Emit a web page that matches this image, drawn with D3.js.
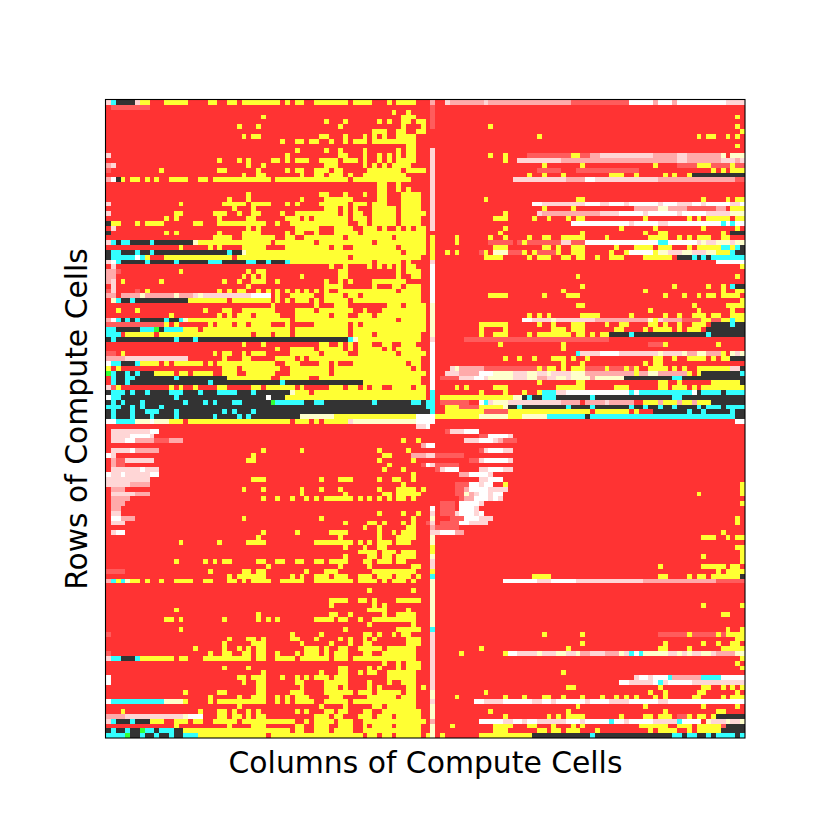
<!DOCTYPE html>
<html>
<head>
<meta charset="utf-8">
<script src="https://cdn.jsdelivr.net/npm/d3@7"></script>
<style>
  html, body { margin: 0; padding: 0; background: #fff; }
  text { font-family: "DejaVu Sans", sans-serif; fill: #000; }
</style>
</head>
<body>
<script>
//cell classes, red is the background class
var classKeys = ["r", "y", "k", "c", "g", "w", "p", "s", "m", "l"];
var classColors = ["#ff3333", "#ffff33", "#333333", "#33ffff", "#33ff33", "#ffffff", "#ffd6d6", "#ffaaaa", "#ff5c5c", "#ffffcc"];

//each row lists its non red runs as class + first column - last column
var rowsTop = [
"p0 c1 k2-5 p6 y7-8 y12-16 y21-22 y25-26 y28-33 y34-35 y37 y39-40 y43-49 y51-54 y58 y60-63 p70 s71-77 p78 s79-95 m96-107 w108-112 s113 w114-116 s117 w118-127 p128-131",
"m1-8",
"y59 y62",
"y32 y61-63 y130",
"y45 y49 y56 y58 y61-62 y64-65",
"y27 y31 y48 y61 y65 y79 y130",
"y55-57 y60-61 y64-65 y131",
"y28 y30-31 y44-45 y49 y53 y55 y57 y60-63 y89 y122 y124-125 y128 y130",
"y36 y39-40 y42-43 y46 y49 y51-53 y55-63",
"y62-63 y130",
"y39 y45 y48 y53 y60 y62-63",
"p0 y37 y48-49 y53 y56 y58 y60 y62-63 y79 y82 m87-95 y96-97 m98-99 s100-101 p102-112 s113-117 p118-119 s120-126 l127 l129-131",
"y23 y27 y29 y34-35 y37 y39-41 y44-47 y49-51 y53 y56 y58 y60-63 y82 p85-93 s94-117 p118-119 s120-126 p127-129 s130 p131",
"s0 p1 y29 y32 y45-47 y53 y55 y57 y59-62 y90 y98 y113 m118-121 y122-124 m125-128 y129 m130-131",
"m0 y11 y23-24 y31 y37 y39-40 y43-45 y47-48 y54-60 y62-65 m89-93 m97-109 y125 y127 y129-131",
"y28 y31-32 y40 y43-44 y46-48 y50 y53-61 y87 y90 y94 y104-106 y109 y115 y117 y120 k121-131",
"s0 w1 k2 y3 y5-6 y8 y10 y13-16 y19-20 y22-33 y35-49 y51-62 p84-94 s95-98 w99-100 p101-113 s114-129 m130-131",
"y56-57 y60",
"y56-57 y60 y62",
"y29 y44-45 y49 y53 y56-57 y61-64",
"y25 y29 y40 y45-50 y56-57 y61-64 y78 y97-98 y123 y128 y130-131",
"p0 y15 y24-28 y30-33 y37 y39 y44-49 y51-53 y55-57 y61-64 w88-89 p90-98 w99-101 p102-103 w104-106 p107 w108-113 p114 w115-117 p118-120 w121-122 p123 w124-128 p129-130 w131",
"y26 y30 y45-47 y49 y51 y55-59 y61-64 y90 y96 s109-113 l114-115 s116-119 m120-125 s126-127 y129-131",
"p0 y14-15 y22-24 y27 y30-31 y36 y39-47 y49 y51-52 y55-59 y61-65 y82 p89 s90-101 p102-105 w106-110 p111 w112-117 p118 w119-123 p124-128 l129-131",
"y12 y14 y23 y29-30 y37-39 y41 y43-49 y51-53 y55-59 y61-64 y80-82 y88 y91 y95 y97-98 y111 y120 y122 y124-128 y130-131",
"k0 y1-2 y6 y8-11 y18-19 y23-32 y35 y38-49 y52-53 y55-59 y61-64 w96-107 p108 w109-113 p114-115 w116-126 c127 w128 c129 w130-131",
"p1 y29 y31 y39-43 y47-50 y53-55 y57 y60 y62 y64-65 y82 y106 y113 y123 y130",
"k0 y12 y14 y23 y28-31 y37 y39-40 y43 y47-51 y53-65 y81 y98 y111 y114-115 y127 k129-131",
"y22-25 y28-33 y34 y37-38 y41-48 y50-58 y60-65 y72 y79 y82 y87 y90-91 y94-98 y103 y112-115 y118 y120 y122-124 y127-128",
"p0 c1 k2 c3-4 k5-8 c9 k10-17 l18 y19-33 y35-42 y44-54 y56-65 y72 m79-83 m85 y86 m87-93 p94-95 m96-98 w99-113 c114-115 w116-121 p122 l123 p124-125 l126-128 p129 l130-131",
"y15 y21 y23 y28-32 y37-45 y47-48 y51-59 y61-65 y80-82 y90-91 y93 y96-98 y105 y109-112 y114-116 y120 y122-126 c127-128 y129 c130 k131",
"k0 c1-2 k3-5 c6 k7-8 c9 k10-24 c25 k26-27 l28 y29-33 y34-60 y62-65 y70 y72 m77 y78 l80-82 m83-85 y86 y88 m89-92 y93 y96-98 y104 y107 w108-112 y113 l114-115 p116-118 l119-120 p121-123 l124-125 y126-128 c129 k130-131",
"k0 c1-5 w6 c7 y8 y12-25 y27-33 y34-49 y51-64 y78-81 y87 y89-91 y94-95 y97-98 y101 y104-106 y111-116 k118-120 c121 k122 c123 k124 c125-131"
];

var rowsUpper = [
"p0 w1 c2 k3-7 c8 k9-13 c14 k15-20 c21-23 k24-28 c29-30 k31-32 c33 k34-36 c37 y38-54 y56-60 y62 w126-131",
"p1 y46 y49 y54 y56 y58 y60 y62-63 y131",
"s0-1 m2 y15 y29 y31-32 y48-49 y60 y62-64",
"s0-1 y28 y30 y32 y40 y48-49 y60 y63-64 y97 y130",
"s0 p1 y3 y11 y24 y27 y30-32 y35 y45 y48 y50 y55-61",
"p1 y29 y45-48 y55 y59-60 y62-64 y98 y117 y124 y127 c129 k130-131",
"m0 p1 m6 y8 y23 y25 y27-28 y31 y33 y35 y37 y39 y41 y43 y45 y48-59 y61-64 y94 y111 y127 y130-131",
"s0-1 s3-6 l7 s8-13 l14 s15-17 p18 l19 p20-29 w30-33 y35 y38-42 y45-48 y50-51 y53-64 y79-82 y90 y95-97 y115 y119 y122 y124-125 y127-130",
"l1 c2 k3-4 c5 k6-16 y17-24 y26-33 y35 y37 y39-41 y43 y45-49 y51-64 y131",
"y34 y43 y47-49 y58-60 y62-65 y97-98 y121 y128-131",
"y2 y6 y20 y24-25 y28-33 y34 y39-42 y44-50 y53 y57-65 y112 y122 y129",
"y13 y23 y25 y27-29 y31-33 y34-35 y39-45 y47-49 y52-54 y56-65 y87 y89 y91 y98-101 y108 y115 y118 y121-123 y125-126 y129-131",
"s0 w1 c2 k3 c4 k5 c6 k7-11 c12 k13-14 c15 l16 y17-33 y34-37 y39-59 y61-65 w86-87 p88-91 l92 p93-100 s101-111 l112 y113 p114 s115-118 m119-122 y123-124 m125-126 y127-128 c129 y130-131",
"m0-11 y12 y14 y21 y23-25 y27-28 y30-33 y37 y43-49 y51 y53-65 y77-82 y89 y92 y96-98 y103 y106-107 y112-113 y115 y118 y121-123 k125-128 c129 k130-131",
"c0-1 k2-6 c7-9 g10 k11 c12-15 y16-18 y20-33 y34-37 y39-49 y51-65 y77 y82 y92-94 y96-98 y105-106 y111 y113-116 y118 y120-122 k124-131",
"c0-2 y4-9 y11-29 y31-33 y35-37 y39-49 y51-54 y56-64 y77 y80-82 y87 y89-95 y97-98 y100 y102-103 k104-107 c108 k109-123 c124 k125-131",
"k0 c1 k2-13 c14 k15-17 c18 k19-49 c50 l51 y52-64 m74-103",
"y28 y32 y44-45 y48 y50 y52-54 y57-58 y61-63 y81 y94 m112-114 y115 y126",
"y35 y38-42 y44-48 y50 y52-56 y58 y60-64 y94",
"m0-1 y3 y22 y24-25 y28 y30-32 y38-43 y45-49 y52-59 y61-65 c97 p98-101 w102-105 p106-113 l114 p115-118 l119 s120-121 l122-123 s124-126 y127 l129 p130 l131",
"s0-3 p4-16 y24 y28-29 y35-38 y40 y42-64 y82 y85 y88 y92-94 y96 y99 y113-114 y117 y120-123 y125 y127-128 k129-131",
"w0 c1-2 k3-5 c6 y7-10 y12 y14-19 y21 y23-33 y34 y37-39 y44-45 y47 y51-61 y63-64 y94 y98 y111 y113-114",
"y0 y2 y24-26 y28-33 y34-35 y38-45 y47-62 y64 p71 l72 s73-77 m78-88 y89 m90 y91-92 y94 y96-98 m99-102 y103 m104-106 y107 m108 y109 y112-115 y117 y119 y122-128 p129-130 k131",
"g0 c1 k2-3 c4 k5 c6 k7-9 y10-13 y15-16 y18-21 y24-26 y29-33 y34 y38-45 y47-65 p70-72 s73-76 w77-79 l80-83 p84-86 l87-88 p89-90 l91 p92-95 l96-98 s99-108 y109 s110-111 l112-113 s114-119 y120 y122 k123-130 c131",
"c1 k2-3 c4-5 k6-13 c14 k15-24 y25-33 y36-41 y44-64 m69-72 p73-75 w76-77 p78 l79-83 p84-86 l87-88 s89-90 p91-92 l93-94 p95 l96-99 s100 l101-106 k107-116 c117-118 k119-131",
"c1 k2-3 c4 k5-20 c21 k22-33 k34-35 c36 k37-52 y53-64 y89 y97-98 y114-115 y118 y125-130 k131",
"p0 m1 y2 y13 y15 y18 y23-24 y30-31 y33 y34-38 y40 y46-48 y50-51 y53 y55-56 y59-62 y64-65 y72 y74 y80-82 y93-98 y105-107 y114-115 y117-119 y121 y123-131",
"k0 c1-3 k4 c5 k6-7 c8 k9-12 c13-15 k16-18 c19 k20-22 c23-26 k27-29 c30 k31-33 k34-37 l38 y39-41 y43-65 y77 y82 y86 y89 c90-92 p93-94 w95-107 c108 w109 c110-120 w121 k122 c123-126 k127 c128-131",
"w0 c1-2 k3-13 c14 k15-32 w33 k34-36 y37-65 y69-83 l84-85 k86 c87 k88-89 c90-92 k93-99 c100 k101-116 c117-118 k119-131",
"k0 c1 k2 c3 k4-6 c7 k8-15 c16 k17-19 c20 k21 c22 k23-25 c26-27 k28-33 g34 c35-40 k41-42 c43-44 k45-54 c55 k56-62 c63-64 k65 c66 m69-74 w77 c78 p79 l80-82 p83-93 s94-97 s99-102 p103 s104-108 y111-113 s114 y115-117 s118 y119-120 s121 y122-124 k125-131",
"c0-2 k3-4 c5 k6 c7 k8-10 c11 k12-33 k34-65 c66 y70-72 m73-76 y77-81 l82 k83-84 c85 k86-94 c95 k96-99 c100 k101-107 c108 k109-110 c111 k112-113 c114 k115-116 c117 k118-121 c122 k123 c124-126 k127 c128-131",
"k0 c1 k2-4 c5 k6-7 c8-10 k11-13 c14 k15-23 c24 k25 c26 k27-29 c30 k31-66 y70-77 m78-82 y83 y84-99 y101-107 y109 k113-119 c120 k121-122 c123 k124-128 c129 k130-131",
"k0 c1 k2-4 c5 k6-8 c9 k10-13 c14 k15-21 c22 k23-26 c27 k28 c29 k30-39 l40-46 y47-63 w64-66 y68-76 l77-82 y83-85 l86-90 c91-98 k99 c100-129 k130-131"
];

var rowsLower = [
"w0-1 c2-5 l6-8 w9 l10-12 y13-15 y17-37 y39-41 y43 y45-49 p50 l51-63 w64-66 w130-131",
"p64-65 w66",
"p1-8 w9-10 m70 p71-73 w74-76",
"p1-4 w5-8 p9 m77-78 w79-82 p83",
"p1-3 w4-5 s6-9 m10-12 s13-15 y61 y64 p74-76 w77-79 p80 s81 m82-84",
"s65 w66-67",
"p1-4 w5 s6-10 y32 y40 y56 y62 m77 p78 w79-81 p82-83",
"w0 p1 y30 y57-58 s63-65 p66-67 m68-73",
"s1 m2-3 p4-9 y29-30 y56 y63 m75-76 p77 w78-82 p83",
"s1 m2-3 y58 m65 w66 p67 m68-72",
"p1-6 w7 p8-10 y57 y61 m68 p69 w70-72 p77-78 w79-81 p82-83",
"w0 p1-2 w3 p4-8 w9-10 y63 s73-74 w75-78 p79",
"p0-8 y30-32 y44 y48-50 y56 y59-60 y63 p77-78 w79-81",
"p0-4 s5-8 y61 m72-74 w75-76 p77 w78-79 y82 y131",
"s1-3 y28 y32 y40 y44 y48 y56 y60-63 y65 m72-73 s74 w75-78 p79-82 y131",
"p1-5 s6-8 y40 y49 y57-58 y60-64 m72-73 l74 s75 p76 w77-78 p79 w80-81 y122 y131",
"s1-4 y32 y35 y38 y41 y43 y45-50 y52 y54 y56 y58 y60-61 y63 m73 s74-75 w76-78 p79 w80 p81",
"s1-3 m69-71 w73-76 p77 y131",
"s1-2 m69-71 w73-75 p76",
"p1-2 y56 y61 y64 m69-71 p72 w73-75 p76 w77",
"w1-2 s3-5 y28 y44 y63 m71-73 w74-76 p77-79 y130",
"p1-3 y49 y54-55 y57 y61 y63 m66 m69-72 w73-74 p75-78 y130",
"y53 y56 y62-63 m68-72",
"p1 w2-3 y32 y39 y46-49 y56 y59 y61-63 p68 w69-71 s72-73 y127",
"y31 y48 y56 y60-63 y123-125 y128 y130-131",
"y15 y23 y29-32 y43-50 y52 y54 y56-58 y60-62",
"y49 y53 y56-57 y130-131",
"y52-55 y57-59 y61-63 y131",
"y49 y54-55 y57-58 y60-63 y123 y131",
"y14 y20 y22 y24-25 y31-32 y35-36 y39-40 y43-44 y46-49 y53-54 y56-58 y60-61 y131",
"y33 y48 y54 y63-64 y114 y123-127 y129-130",
"m0-3 y21 y28-29 y31-32 y41 y45-47 y55-63 y126 y128-131",
"y25 y27-32 y38 y40 y43-45 y47-49 y52-54 y56-58 y60-62 y64 y88-91 y114-115 y120 y122-123 y125-130 k131"
];

var rowsBottom = [
"s0 c1 y2 c3 l4 y5-6 y8 y11 y14-17 y20-21 y25-26 y28 y30-33 y36-40 y43-50 y52-55 y57 y59-61 y63 w82-88 p89-91 w92-96 p97-110 s111-125 m126-131",
"",
"y54 y63",
"",
"y46-49 y52-53 y55 y60-64",
"y46 y55 y57 y123 y131",
"y14 y54-57 y62",
"y31 y46-47 y50 y57 y60-63 y127-128",
"y12-13 y15 y24 y31 y33 y35 y43-46 y48-49 y52 y55-63",
"y54 y63",
"y15 y49 y60-64 y128 y131",
"m0 y38 y44 y53-54 y56 y59 y61-62 y90 y98 m114-119 y120 m121-125 y126 m127 y128-131",
"y25 y29-30 y32 y38-39 y43 y48 y50 y53 y55 y62-64 y130-131",
"y24 y30-32 y40 y46 y50 y53-54 y62-64 y98 y115 y123 y126 y129-130",
"y18 y24 y27 y29 y31-32 y41-43 y45 y48-49 y52-56 y58-63 y77 y95 y114-115 y120 y127-131",
"m0 y21 y24-25 y28-29 y31-32 y35 y39 y41-43 y45 y47-49 y53-54 y57-63 y73 y82 w83-84 p85-88 l89 p90-92 l93-94 p95-96 l97 s98-99 p100-102 s103-105 l106 p107 c108 w109 c110 l111-115 p116-117 l118 p119 l120 p121-122 l123-124 p125 s126-129 l130-131",
"p0 c1-2 k3-5 c6 y7-13 y15-16 y20-29 y31-32 y35-38 y40-45 y47-49 y51-63 y131",
"y57 y60 y62-64 y130",
"y24 y29 y48-49 y54 y56 y60 y62-64 y131",
"y32 y44 y48-49 y52 y54-55 y58-63 y94",
"w0 y27-28 y30-32 y36 y39 y41 y43-45 y47-49 y58-63 p109 w110-111 p112 w113-115 c116 s117-122 c123-125 c126 w127-131",
"w0 y28 y31-32 y39-40 y45-49 y54 y58 y61-63 w106-107 p108-112 w113 c114 p115 w116-120 p121-131",
"y31-32 y40 y45-47 y49 y54 y56 y62-63 y65 y95-96 y114 y123-124 y127 y129 y131",
"y16 y23-24 y31-32 y38-40 y45-50 y52-54 y56-60 y62-63 y78 y112 y115 y122-123 y130",
"y21 y27 y30-32 y35 y37 y39-41 y46-48 y54-59 y61-63 y72 y82 y86 y90-91 y94 y98 y102 y105 y107 y109 y113 y115 y121-122 y127 y129-131",
"w0 c1-11 l12-15 y16 y21 y23-32 y35 y37 y39-42 y45-49 y51-63 w76-77 p78-81 w82-87 p88-89 w90-91 p92 w93-98 p99 w100-103 p104-107 w108-113 p114-115 w116-131",
"y27 y44 y49 y55-56 y58-63 y97 y111 y123 y130",
"y3 y19 y23-24 y26 y29 y31 y39 y41 y45-46 y48-49 y53-54 y57-64 y79 y95 y115 y126-127",
"s0-3 p4-15 l16 w17-19 y23-24 y26-27 y29 y31-32 y43-45 y47-48 y52-54 y56-58 y60-64 y82 y91 y93 y95-98 y106 y111-112 y114-116 m118-119 y120 y122-123 y125 k126-131",
"p0 c1 k2-4 c5 k6-8 y9-11 y14-16 y18-19 y22-26 y28-38 y41 y43-46 y48-50 y53-65 w77-81 p82-83 w84-85 p86 w87-88 p89-94 w95-97 p98 w99-103 c104 w105-106 p107 w108-112 p113-117 c118 w119-122 l124 p125-127 l128 p129-130 l131",
"y14 y25 y30-32 y39-40 y43-45 y48-50 y53 y55-58 y60-64 y71 y80-83 y87-88 y92 y96 y98 y110-115 y118-120 y122-126 m127 k128-131",
"k0 c1 k2-3 c4 k5-6 g7 c8-9 k10 c11-13 k14-15 y16-37 y39-40 y43-45 y47-50 y53-64 y80-82 y89-90 y92-93 y95-97 y101 y112 y114-117 y120 y122-126 k127-131",
"c0-3 g4 k5-6 c7 k8-9 c10 k11-12 c13 k14-15 c16-18 y19-32 y34-52 y54-55 y57-58 y60-64 y66 y69 y77-87 k88-99 c100 k101-116 c117-118 k119 c120-121 k122-123 c124 k125 c126-129 k130 c131"
];

//the single column near the middle, as runs of rows
var dividerFirst = [0, 1, 10, 28, 33, 34, 42, 49, 50, 60, 65, 84, 85, 86, 87, 88, 89, 90, 92, 94, 95, 97, 98, 99, 109, 110, 122, 124, 125, 128, 129];
var dividerLast = [0, 5, 26, 32, 33, 41, 48, 49, 59, 64, 66, 84, 85, 86, 87, 88, 89, 91, 93, 94, 96, 97, 98, 108, 109, 121, 123, 124, 127, 128, 131];
var dividerClass = ["s", "m", "p", "y", "p", "w", "l", "p", "w", "c", "w", "w", "p", "l", "p", "s", "p", "l", "y", "l", "p", "y", "c", "l", "c", "p", "l", "p", "l", "s", "l"];
var dividerColumn = 67;

var xTitle = "Columns of Compute Cells";
var yTitle = "Rows of Compute Cells";

var gridSize = 132;

//frame of the plot
var left = 106, right = 745, top_ = 100, bottom = 738;

var svg = d3.select("body")
    .append("svg")
    .attr("width", 830)
    .attr("height", 830)
    .style("display", "block");

var x = d3.scaleBand().domain(d3.range(gridSize)).range([left, right]);
var y = d3.scaleBand().domain(d3.range(gridSize)).range([top_, bottom]);
var color = d3.scaleOrdinal().domain(classKeys).range(classColors);

//expand the runs into a matrix
var rows = rowsTop.concat(rowsUpper, rowsLower, rowsBottom);
var matrix = rows.map(function(row){
    var cells = new Array(gridSize).fill("r");
    row.split(" ").filter(Boolean).forEach(function(token){
        var parts = token.slice(1).split("-");
        var first = +parts[0];
        var last = parts.length > 1 ? +parts[1] : first;
        for (var c = first; c <= last; c++){
            cells[c] = token[0];
        }
    });
    return cells;
});

dividerFirst.forEach(function(first, i){
    for (var r = first; r <= dividerLast[i]; r++){
        matrix[r][dividerColumn] = dividerClass[i];
    }
});

//merge neighbours of one class so the drawing stays light
var runs = [];
matrix.forEach(function(cells, r){
    var start = 0;
    for (var c = 1; c <= gridSize; c++){
        if (c == gridSize || cells[c] != cells[start]){
            runs.push({row: r, first: start, last: c - 1, key: cells[start]});
            start = c;
        }
    }
});

svg.selectAll(".cell")
    .data(runs)
    .enter()
    .append("rect")
    .attr("class", "cell")
    .attr("x", function(d){ return x(d.first); })
    .attr("y", function(d){ return y(d.row); })
    .attr("width", function(d){ return x(d.last) + x.bandwidth() - x(d.first); })
    .attr("height", y.bandwidth())
    .attr("shape-rendering", "crispEdges")
    .style("fill", function(d){ return color(d.key); });

svg.append("rect")
    .attr("x", left - 0.5)
    .attr("y", top_ - 0.5)
    .attr("width", right - left + 0.5)
    .attr("height", bottom - top_ + 0.5)
    .style("fill", "none")
    .style("stroke", "#000")
    .style("stroke-width", 1.1);

svg.append("text")
    .attr("x", (left + right) / 2)
    .attr("y", 773)
    .attr("text-anchor", "middle")
    .style("font-size", "29.8px")
    .text(xTitle);

svg.append("text")
    .attr("transform", "translate(87," + ((top_ + bottom) / 2) + ") rotate(-90)")
    .attr("text-anchor", "middle")
    .style("font-size", "29.8px")
    .text(yTitle);
</script>
</body>
</html>
